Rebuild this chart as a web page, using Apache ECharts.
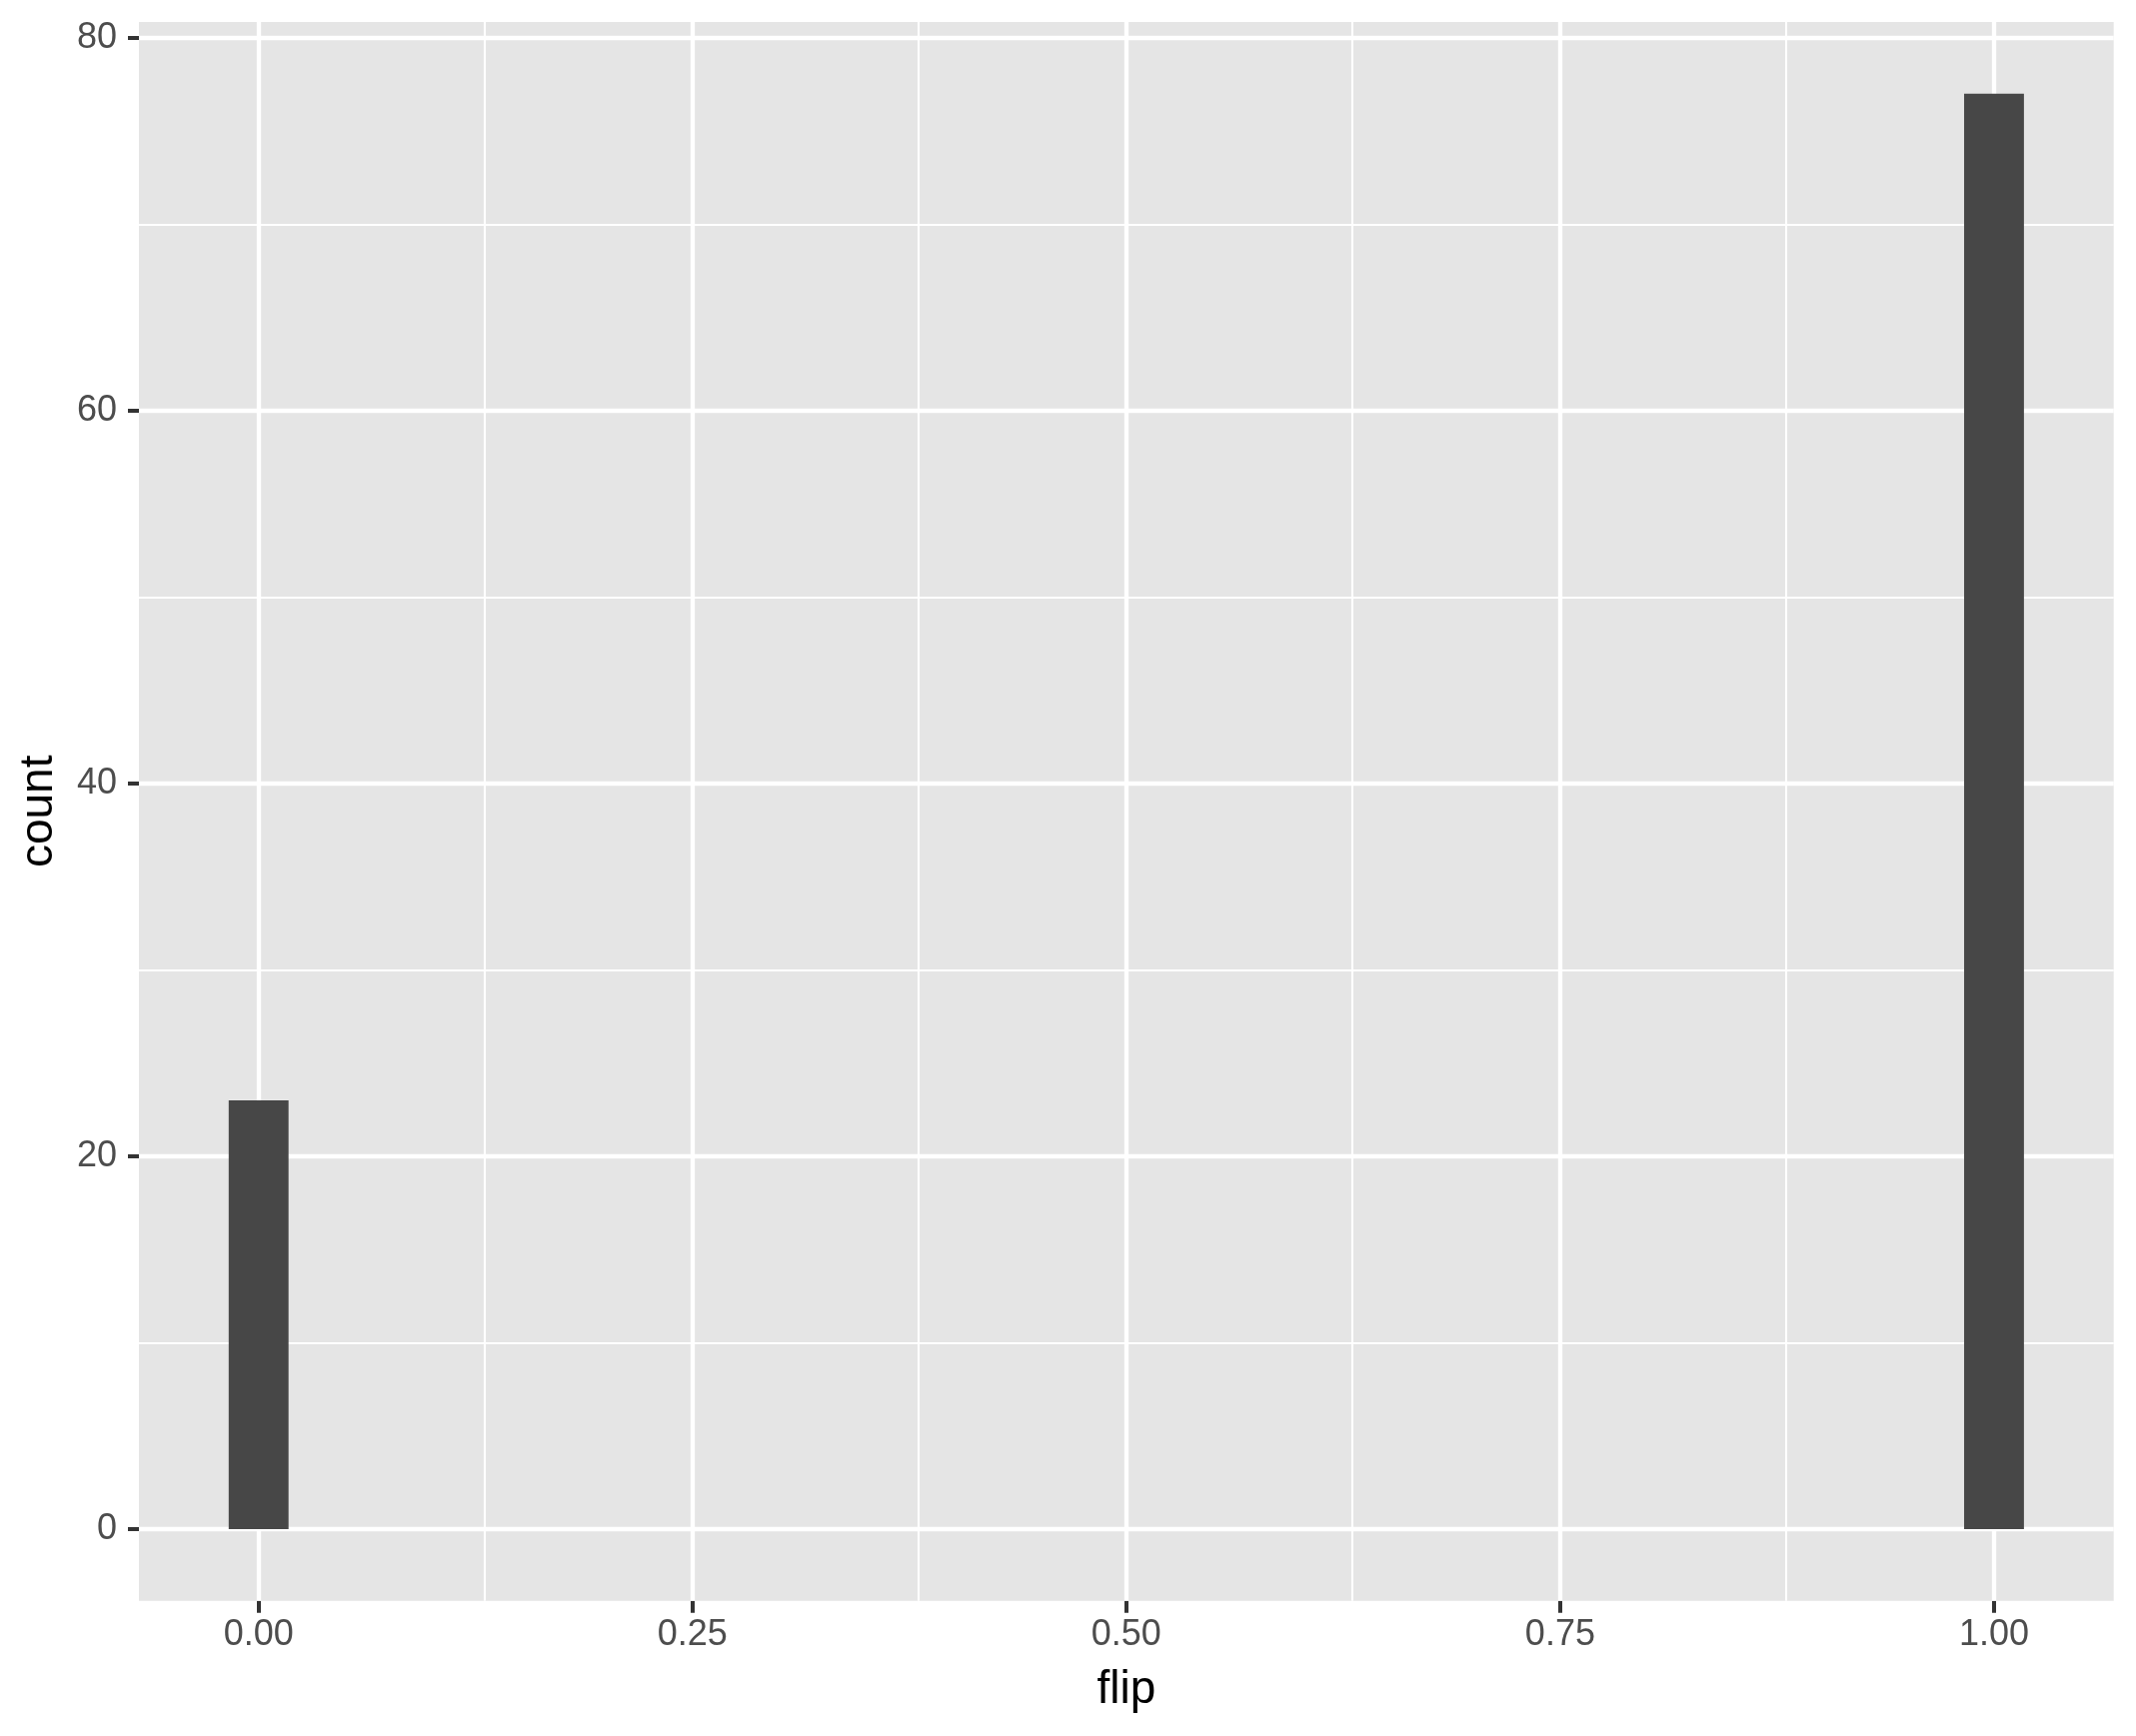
<!DOCTYPE html>
<html>
<head>
<meta charset="utf-8">
<style>html,body{margin:0;padding:0;background:#fff}#c{width:2137px;height:1737px}</style>
<script src="https://cdn.jsdelivr.net/npm/echarts@6/dist/echarts.min.js"></script>
</head>
<body>
<div id="c"></div>
<script>
// Histogram data (30 bins over 0..1, only two non-empty bins)
const binCenters = [0, 1];
const counts = [23, 77];
const binWidth = 1 / 29;
const xTicks = [0, 0.25, 0.5, 0.75, 1];
const xMinor = [0.125, 0.375, 0.625, 0.875];
const yTicks = [0, 20, 40, 60, 80];
const yMinor = [10, 30, 50, 70];

const half = binWidth / 2;
const xLo = binCenters[0] - half, xHi = binCenters[binCenters.length - 1] + half;
const xPad = (xHi - xLo) * 0.05;
const xMin = xLo - xPad, xMax = xHi + xPad;
const yMaxData = Math.max.apply(null, counts);
const yPad = yMaxData * 0.05;

const chart = echarts.init(document.getElementById('c'), null, {renderer: 'canvas'});
const font = 'Liberation Sans, Arial, Helvetica, sans-serif';

const gridL = 139, gridR = 22.3, gridT = 22, gridB = 135.3;
const plotW = chart.getWidth() - gridL - gridR;
// helper grid whose 0..1 axis coincides with the main x scale (for tick marks)
const tickFirst = xTicks[0], tickLast = xTicks[xTicks.length - 1];
const left2 = gridL + (tickFirst - xMin) / (xMax - xMin) * plotW;
const right2 = gridR + (xMax - tickLast) / (xMax - xMin) * plotW;

const gridLines = [];
xTicks.forEach(v => gridLines.push({xAxis: v, lineStyle: {width: 4.3}}));
xMinor.forEach(v => gridLines.push({xAxis: v, lineStyle: {width: 2.1}}));
yTicks.forEach(v => gridLines.push({yAxis: v, lineStyle: {width: 4.3}}));
yMinor.forEach(v => gridLines.push({yAxis: v, lineStyle: {width: 2.1}}));

chart.setOption({
  animation: false,
  grid: [
    {left: gridL, right: gridR, top: gridT, bottom: gridB, show: true, backgroundColor: '#E5E5E5', borderWidth: 0,
      containLabel: false, outerBoundsMode: 'none'},
    {left: left2, right: right2, top: gridT, bottom: gridB, show: false, containLabel: false, outerBoundsMode: 'none'}
  ],
  xAxis: [
    {
      type: 'value', gridIndex: 0, min: xMin, max: xMax, position: 'bottom',
      name: 'flip', nameLocation: 'middle', nameGap: 67, nameMoveOverlap: false,
      nameTextStyle: {fontFamily: font, fontSize: 46, color: '#000'},
      axisLine: {show: true, onZero: false, lineStyle: {color: 'rgba(0,0,0,0)', width: 0}},
      splitLine: {show: false},
      axisTick: {show: false},
      axisLabel: {customValues: xTicks, formatter: v => v.toFixed(2), fontFamily: font, fontSize: 36, color: '#4D4D4D', margin: 16}
    },
    {
      type: 'value', gridIndex: 1, min: tickFirst, max: tickLast, interval: xTicks[1] - xTicks[0], position: 'bottom',
      axisLine: {show: true, onZero: false, lineStyle: {color: 'rgba(0,0,0,0)', width: 0}},
      splitLine: {show: false},
      axisTick: {show: true, length: 12, lineStyle: {color: '#333333', width: 4}},
      axisLabel: {show: false}
    }
  ],
  yAxis: [
    {
      type: 'value', gridIndex: 0, min: -yPad, max: yMaxData + yPad,
      name: 'count', nameLocation: 'middle', nameGap: 77, nameRotate: 90, nameMoveOverlap: false,
      nameTextStyle: {fontFamily: font, fontSize: 46, color: '#000'},
      axisLine: {show: true, onZero: false, lineStyle: {color: 'rgba(0,0,0,0)', width: 0}},
      splitLine: {show: false},
      axisTick: {show: true, customValues: yTicks, length: 11, lineStyle: {color: '#333333', width: 4}},
      axisLabel: {customValues: yTicks, fontFamily: font, fontSize: 36, color: '#4D4D4D', margin: 22}
    },
    {type: 'value', gridIndex: 1, min: 0, max: 1, show: false}
  ],
  series: [
    {
      type: 'line', xAxisIndex: 0, yAxisIndex: 0, data: [], silent: true, z: 1,
      markLine: {silent: true, z: 1, symbol: 'none', label: {show: false}, animation: false,
        lineStyle: {color: '#FFFFFF', type: 'solid'}, emphasis: {disabled: true}, data: gridLines}
    },
    {
      type: 'custom', xAxisIndex: 0, yAxisIndex: 0, z: 3,
      data: binCenters.map((c, i) => [c - half, c + half, counts[i]]),
      encode: {x: [0, 1], y: 2},
      renderItem: function (params, api) {
        const p0 = api.coord([api.value(0), api.value(2)]);
        const p1 = api.coord([api.value(1), 0]);
        return {type: 'rect', shape: {x: p0[0], y: p0[1], width: p1[0] - p0[0], height: p1[1] - p0[1]},
          style: {fill: '#474747'}};
      }
    },
    {type: 'line', xAxisIndex: 1, yAxisIndex: 1, data: [], silent: true}
  ]
});
</script>
</body>
</html>
